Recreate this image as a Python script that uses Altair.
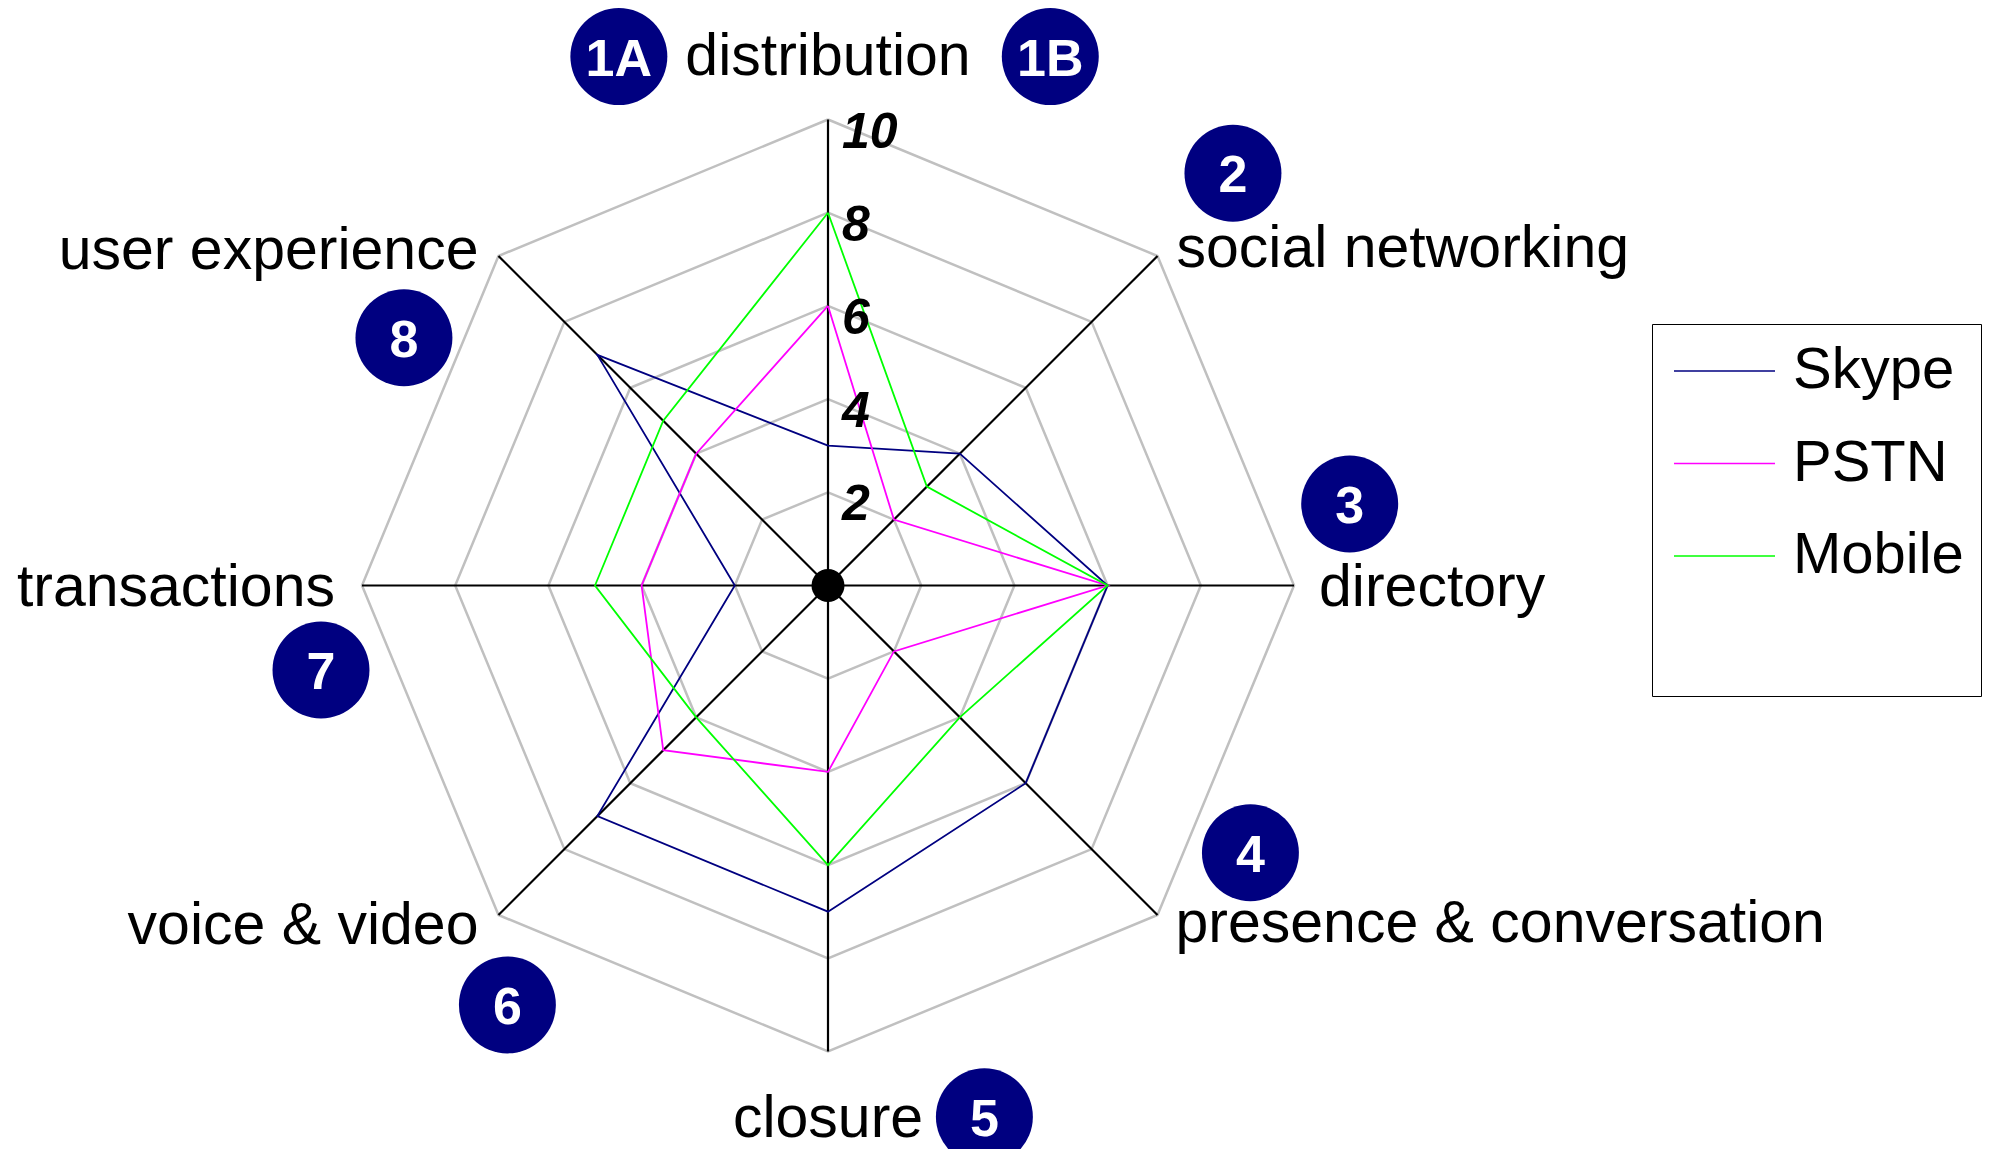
import altair as alt
import pandas as pd
import numpy as np

# ---------------- data ----------------
categories = ["distribution", "social networking", "directory", "presence & conversation",
              "closure", "voice & video", "transactions", "user experience"]
series_names = ["Skype", "PSTN", "Mobile"]
skype = [3, 4, 6, 6, 7, 7, 2, 7]
pstn = [6, 2, 6, 2, 4, 5, 4, 4]
mobile = [8, 3, 6, 4, 6, 4, 5, 5]
series_colors = ["#000080", "#FF00FF", "#00FF00"]

ring_levels = [2, 4, 6, 8, 10]
tick_labels = ["2", "4", "6", "8", "10"]
r_max = 10

# category label placement: alignment and pixel offset from the outer vertex
label_align = ["center", "left", "left", "left", "center", "right", "right", "right"]
label_dx = [0, 19, 25, 18, 0, -20, -27, -20]
label_dy = [-45, 11, 20, 27, 85, 28.5, 20, 13]

# numbered badges (text, position in value units of the radar)
badge_text = ["1A", "1B", "2", "3", "4", "5", "6", "7", "8"]
badge_x = [-4.488, 4.770, 8.690, 11.195, 9.065, 3.356, -6.880, -10.880, -9.100]
badge_y = [11.350, 11.350, 8.845, 1.750, -5.735, -11.400, -9.000, -1.815, 5.315]

# ---------------- geometry / layout ----------------
PX = 46.6                 # pixels per value unit
W, H = 1984, 1141
CX, CY = 820, 577.5       # radar centre inside the plot area
x_dom = [-CX / PX, (W - CX) / PX]
y_dom = [-(H - CY) / PX, CY / PX]
xs = alt.Scale(domain=x_dom, nice=False, zero=False)
ys = alt.Scale(domain=y_dom, nice=False, zero=False)
FONT = "Liberation Sans"

angles = np.deg2rad(np.arange(len(categories)) * 45.0)

ring_rows = []
for lvl in ring_levels:
    for k in range(len(categories) + 1):
        a = angles[k % len(categories)]
        ring_rows.append(dict(level=lvl, k=k, x=lvl * np.sin(a), y=lvl * np.cos(a)))
rings = pd.DataFrame(ring_rows)

spokes = pd.DataFrame(dict(cat=categories, x0=0.0, y0=0.0,
                           x1=r_max * np.sin(angles), y1=r_max * np.cos(angles)))

ser_rows = []
for name, vals in zip(series_names, [skype, pstn, mobile]):
    for k in range(len(categories) + 1):
        i = k % len(categories)
        ser_rows.append(dict(series=name, k=k, cat=categories[i], value=vals[i],
                             x=vals[i] * np.sin(angles[i]), y=vals[i] * np.cos(angles[i])))
ser = pd.DataFrame(ser_rows)

ticks = pd.DataFrame(dict(level=ring_levels, label=tick_labels, x=0.0))

labels = pd.DataFrame(dict(cat=categories, align=label_align,
                           x=r_max * np.sin(angles) + np.array(label_dx) / PX,
                           y=r_max * np.cos(angles) - np.array(label_dy) / PX))

badges = pd.DataFrame(dict(text=badge_text, x=badge_x, y=badge_y))
center = pd.DataFrame(dict(x=[0.0], y=[0.0]))

# ---------------- layers ----------------
ring_layer = alt.Chart(rings).mark_line(color="#C0C0C0", strokeWidth=2.5).encode(
    x=alt.X("x:Q", scale=xs, axis=None),
    y=alt.Y("y:Q", scale=ys, axis=None),
    detail="level:N",
    order="k:Q",
)

spoke_layer = alt.Chart(spokes).mark_rule(color="black", strokeWidth=2.2).encode(
    x=alt.X("x0:Q", scale=xs, axis=None),
    y=alt.Y("y0:Q", scale=ys, axis=None),
    x2="x1:Q",
    y2="y1:Q",
)

blank_entry = "\u00a0" * 12   # empty legend row that gives the box its extra height
legend = alt.Legend(
    orient="none", legendX=1644, legendY=316, title=None,
    strokeColor="black", fillColor="white", padding=17,
    symbolType="stroke", symbolSize=10201, symbolStrokeWidth=1.6, symbolOffset=4,
    clipHeight=60,
    labelFont=FONT, labelFontSize=58, labelColor="black", labelOffset=17,
    rowPadding=32.5, labelLimit=400,
)

series_layer = alt.Chart(ser).mark_line(strokeWidth=1.8).encode(
    x=alt.X("x:Q", scale=xs, axis=None),
    y=alt.Y("y:Q", scale=ys, axis=None),
    color=alt.Color("series:N",
                    scale=alt.Scale(domain=series_names + [blank_entry],
                                    range=series_colors + ["#FFFFFF"]),
                    legend=legend),
    order="k:Q",
)

center_layer = alt.Chart(center).mark_circle(color="black", size=1089, opacity=1).encode(
    x=alt.X("x:Q", scale=xs, axis=None),
    y=alt.Y("y:Q", scale=ys, axis=None),
)

tick_layer = alt.Chart(ticks).mark_text(
    font=FONT, fontSize=50, fontWeight="bold", fontStyle="italic",
    align="left", baseline="alphabetic", dx=14, dy=28, color="black",
).encode(
    x=alt.X("x:Q", scale=xs, axis=None),
    y=alt.Y("level:Q", scale=ys, axis=None),
    text="label:N",
)

label_layers = []
for al in ["left", "center", "right"]:
    label_layers.append(
        alt.Chart(labels[labels["align"] == al]).mark_text(
            font=FONT, fontSize=59, align=al, baseline="alphabetic", color="black",
        ).encode(
            x=alt.X("x:Q", scale=xs, axis=None),
            y=alt.Y("y:Q", scale=ys, axis=None),
            text="cat:N",
        )
    )

badge_circle = alt.Chart(badges).mark_circle(color="#000080", size=9400, opacity=1).encode(
    x=alt.X("x:Q", scale=xs, axis=None),
    y=alt.Y("y:Q", scale=ys, axis=None),
)
badge_label = alt.Chart(badges).mark_text(
    font=FONT, fontSize=52, fontWeight="bold", color="white",
    align="center", baseline="middle", dy=3,
).encode(
    x=alt.X("x:Q", scale=xs, axis=None),
    y=alt.Y("y:Q", scale=ys, axis=None),
    text="text:N",
)

chart = alt.layer(
    ring_layer, spoke_layer, series_layer, center_layer, tick_layer,
    *label_layers, badge_circle, badge_label,
).properties(
    width=W, height=H, padding=0, autosize=alt.AutoSizeParams(type="none"),
    background="white",
).configure_view(stroke=None)

chart.save("out.html", embed_options={"renderer": "svg", "actions": False})
